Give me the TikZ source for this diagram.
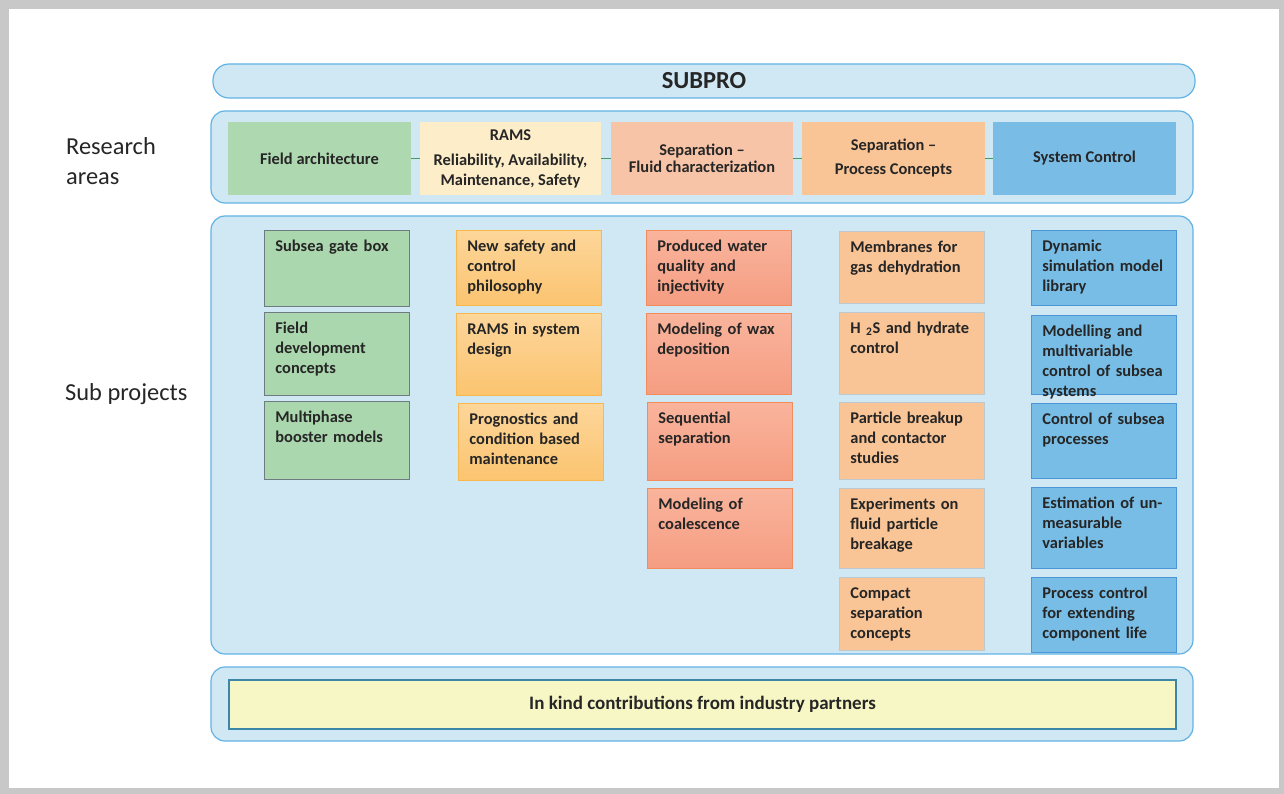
\documentclass[tikz,border=0pt]{standalone}
\usepackage{fontspec}
\setmainfont{Carlito}
\usepackage{tikz}

\definecolor{framegrey}{RGB}{200,200,200}
\definecolor{panelfill}{RGB}{208,231,244}
\definecolor{paneledge}{RGB}{98,179,228}
\definecolor{areagreen}{RGB}{174,216,176}
\definecolor{areayellow}{RGB}{253,237,201}
\definecolor{areasalmon}{RGB}{248,196,168}
\definecolor{areapeach}{RGB}{249,197,151}
\definecolor{areablue}{RGB}{121,188,230}
\definecolor{projgreen}{RGB}{171,215,174}
\definecolor{greenedge}{RGB}{110,124,130}
\definecolor{orangetop}{RGB}{253,214,154}
\definecolor{orangebot}{RGB}{251,196,112}
\definecolor{orangeedge}{RGB}{249,183,76}
\definecolor{salmontop}{RGB}{249,180,156}
\definecolor{salmonbot}{RGB}{245,157,130}
\definecolor{salmonedge}{RGB}{243,140,92}
\definecolor{projpeach}{RGB}{249,196,150}
\definecolor{peachedge}{RGB}{190,201,207}
\definecolor{projblue}{RGB}{120,189,230}
\definecolor{blueedge}{RGB}{74,150,214}
\definecolor{kindfill}{RGB}{247,247,198}
\definecolor{kindedge}{RGB}{60,134,168}
\definecolor{linkgreen}{RGB}{70,155,95}
\definecolor{inkgrey}{RGB}{38,38,38}

\begin{document}
\begin{tikzpicture}[x=1pt, y=-1pt,
  every node/.style={font=\fontsize{16.4}{20}\selectfont\bfseries, text=inkgrey},
  panel/.style={draw=paneledge, fill=panelfill, line width=1.2pt, minimum width=982pt, inner sep=0pt},
  area/.style={minimum width=183pt, minimum height=73pt, inner sep=0pt, align=center},
  arealink/.style={linkgreen, line width=1pt},
  proj/.style={anchor=north west, minimum width=145pt, text width=123pt, inner xsep=11pt,
    inner ysep=0pt, align=left, text height=21pt, line width=0.8pt},
  greenproj/.style={proj, fill=projgreen, draw=greenedge},
  orangeproj/.style={proj, top color=orangetop, bottom color=orangebot, draw=orangeedge},
  salmonproj/.style={proj, top color=salmontop, bottom color=salmonbot, draw=salmonedge},
  peachproj/.style={proj, fill=projpeach, draw=peachedge},
  blueproj/.style={proj, fill=projblue, draw=blueedge},
  biglabel/.style={font=\fontsize{24.4}{30}\selectfont, anchor=west, align=left, inner sep=0pt}]

  \fill [framegrey] (0, 0) rectangle (1284, 794);
  \fill [white] (9, 9) rectangle (1279, 788);
  \useasboundingbox (0, 0) rectangle (1284, 794);

  \node [panel, rounded corners=16pt, minimum height=34pt,
    font=\fontsize{24.5}{29}\selectfont\bfseries] (subpro) at (704, 81) {SUBPRO};
  \node [panel, rounded corners=14pt, minimum height=92pt] (areas) at (702, 157) {};
  \node [panel, rounded corners=14pt, minimum height=438pt] (subs) at (702, 435) {};
  \node [panel, rounded corners=14pt, minimum height=74pt] (kind) at (702, 704) {};

  \node [biglabel] (areaslbl) at (66, 161) {Research\\areas};
  \node [biglabel] (subslbl) at (65, 394) {Sub projects};

  % research areas
  \node [area, fill=areagreen] (fa) at (319.5, 158.5) {Field architecture};
  \node [area, fill=areayellow, minimum width=181pt] (rams) at (510.5, 158.5)
    {RAMS\\[5pt]Reliability, Availability,\\Maintenance, Safety};
  \node [area, fill=areasalmon, minimum width=182pt] (sepfluid) at (702, 158.5)
    {Separation --\\[-3pt]Fluid characterization};
  \node [area, fill=areapeach] (sepproc) at (893.5, 158.5) {Separation --\\[4pt]Process Concepts};
  \node [area, fill=areablue] (sysctl) at (1084.5, 158.5) {System Control};
  \draw [arealink] (fa) -- (rams) -- (sepfluid) -- (sepproc) -- (sysctl);

  % sub projects
  \node [greenproj, text depth=55pt] (gate) at (264, 230) {Subsea gate box};
  \node [greenproj, text depth=62pt] (fielddev) at (264, 312) {Field\\development\\concepts};
  \node [greenproj, text depth=57pt] (booster) at (264, 401) {Multiphase\\booster models};

  \node [orangeproj, text depth=54pt] (safety) at (456, 230) {New safety and\\control\\philosophy};
  \node [orangeproj, text depth=61pt] (ramsdesign) at (456, 313) {RAMS in system\\design};
  \node [orangeproj, text depth=56pt] (prognostics) at (458, 403)
    {Prognostics and\\condition based\\maintenance};

  \node [salmonproj, text depth=54pt] (water) at (646, 230) {Produced water\\quality and\\injectivity};
  \node [salmonproj, text depth=60pt] (wax) at (646, 313) {Modeling of wax\\deposition};
  \node [salmonproj, text depth=57pt] (sequential) at (647, 402) {Sequential\\separation};
  \node [salmonproj, text depth=59pt] (coalescence) at (647, 488) {Modeling of\\coalescence};

  \node [peachproj, text depth=51pt] (membranes) at (839, 231) {Membranes for\\gas dehydration};
  \node [peachproj, text depth=61pt] (hydrate) at (839, 312) {H~\textsubscript{2}S and hydrate\\control};
  \node [peachproj, text depth=56pt] (breakup) at (839, 402) {Particle breakup\\and contactor\\studies};
  \node [peachproj, text depth=59pt] (experiments) at (839, 488)
    {Experiments on\\fluid particle\\breakage};
  \node [peachproj, text depth=52pt] (compact) at (839, 577) {Compact\\separation\\concepts};

  \node [blueproj, text depth=54pt] (dynamic) at (1031, 230) {Dynamic\\simulation model\\library};
  \node [blueproj, text depth=58pt] (multivar) at (1031, 315)
    {Modelling and\\multivariable\\control of subsea\\systems};
  \node [blueproj, text depth=54pt] (ctrlproc) at (1031, 403) {Control of subsea\\processes};
  \node [blueproj, text depth=60pt] (estimation) at (1031, 487)
    {Estimation of un-\\measurable\\variables};
  \node [blueproj, text depth=54pt] (lifetime) at (1031, 577)
    {Process control\\for extending\\component life};

  % industry
  \node [draw=kindedge, fill=kindfill, line width=1.4pt, minimum width=947pt, minimum height=49pt,
    font=\fontsize{19}{23}\selectfont\bfseries] (partners) at (702.5, 704.5)
    {In kind contributions from industry partners};
\end{tikzpicture}
\end{document}
